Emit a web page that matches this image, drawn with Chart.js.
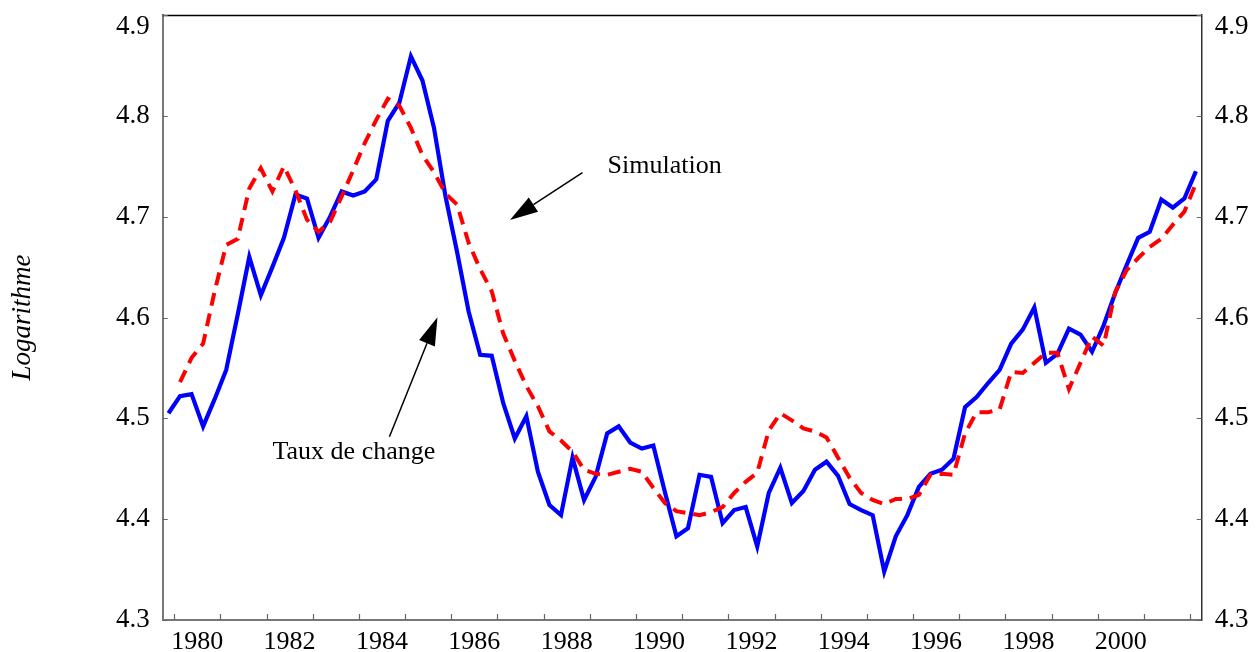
<!DOCTYPE html>
<html>
<head>
<meta charset="utf-8">
<script src="https://cdn.jsdelivr.net/npm/chart.js@4/dist/chart.umd.min.js"></script>
<style>
  html, body { margin: 0; padding: 0; background: #fff; }
  canvas { display: block; }
</style>
</head>
<body>
<canvas id="chart"></canvas>
<script>
// trimestres : de 1979T4 a 2002T1 (debut de 1979T4 = 1979.75)
var firstQuarter = 1979.75;
var nQuarters = 90;

// Taux de change (trait plein bleu)
var tauxDeChange = [
    4.505, 4.522, 4.524, 4.492, 4.519, 4.548, 4.603, 4.660, 4.622, 4.650,
    4.679, 4.722, 4.718, 4.679, 4.700, 4.725, 4.721, 4.725, 4.737, 4.795,
    4.813, 4.859, 4.835, 4.788, 4.720, 4.665, 4.606, 4.563, 4.562, 4.515,
    4.480, 4.502, 4.447, 4.414, 4.404, 4.461, 4.419, 4.442, 4.485, 4.492,
    4.476, 4.470, 4.473, 4.427, 4.383, 4.391, 4.444, 4.442, 4.396, 4.409,
    4.412, 4.373, 4.426, 4.451, 4.416, 4.428, 4.449, 4.457, 4.443, 4.415,
    4.409, 4.404, 4.348, 4.383, 4.404, 4.432, 4.445, 4.449, 4.460, 4.511,
    4.521, 4.535, 4.548, 4.574, 4.588, 4.610, 4.555, 4.564, 4.589, 4.583,
    4.566, 4.592, 4.624, 4.652, 4.679, 4.685, 4.717, 4.709, 4.718, 4.745
];

// Simulation (tirets rouges), commence un trimestre plus tard
var simulation = [
    null, 4.536, 4.560, 4.574, 4.626, 4.672, 4.678, 4.728, 4.748, 4.725,
    4.750, 4.726, 4.697, 4.685, 4.695, 4.720, 4.746, 4.773, 4.796, 4.817,
    4.810, 4.788, 4.761, 4.744, 4.723, 4.712, 4.674, 4.648, 4.626, 4.584,
    4.557, 4.532, 4.512, 4.487, 4.478, 4.467, 4.449, 4.445, 4.444, 4.447,
    4.450, 4.447, 4.431, 4.416, 4.408, 4.406, 4.404, 4.407, 4.412, 4.426,
    4.437, 4.446, 4.488, 4.505, 4.498, 4.490, 4.487, 4.481, 4.461, 4.441,
    4.426, 4.419, 4.415, 4.420, 4.420, 4.424, 4.444, 4.445, 4.444, 4.485,
    4.506, 4.506, 4.509, 4.546, 4.545, 4.555, 4.565, 4.565, 4.529, 4.555,
    4.581, 4.572, 4.625, 4.647, 4.659, 4.670, 4.678, 4.692, 4.705, 4.733
];

var yTicks = [4.3, 4.4, 4.5, 4.6, 4.7, 4.8, 4.9];
var yearLabels = [1980, 1982, 1984, 1986, 1988, 1990, 1992, 1994, 1996, 1998, 2000];

// milieu de chaque trimestre, en annees
var quarterDates = [];
for (var i = 0; i < nQuarters; i++) {
    quarterDates.push(firstQuarter + (i + 0.5) / 4);
}

function toPoints(values) {
    return values.map(function (v, i) { return { x: quarterDates[i], y: v }; });
}

var notes = [
    { text: 'Simulation', at: [1990.62, 4.750], from: [1988.84, 4.7436], to: [1987.27, 4.6967] },
    { text: 'Taux de change', at: [1983.89, 4.466], from: [1984.66, 4.4818], to: [1985.70, 4.6002] }
];

var serif = "'Liberation Serif', 'DejaVu Serif', serif";
Chart.defaults.font.family = serif;
Chart.defaults.color = '#000';

var ctx = document.getElementById('chart').getContext('2d');
ctx.canvas.width = 1260;
ctx.canvas.height = 652;

var framePlugin = {
    id: 'frame',
    beforeDraw: function (c) {
        // le libelle du haut (4.9) est descendu sous le cadre
        ['y', 'y2'].forEach(function (id) {
            c.scales[id].getLabelItems(c.chartArea).forEach(function (it) {
                if (it.label === '4.9') it.options.translation[1] += 12;
            });
        });
    },
    afterDraw: function (c) {
        var g = c.ctx, a = c.chartArea;
        var x = c.scales.x, y = c.scales.y;
        g.save();
        // bord superieur
        g.strokeStyle = '#000';
        g.lineWidth = 1.5;
        g.beginPath();
        g.moveTo(a.left, a.top + 0.5);
        g.lineTo(a.right, a.top + 0.5);
        g.stroke();
        // graduations vers l'interieur
        g.strokeStyle = '#666';
        g.lineWidth = 1.2;
        g.beginPath();
        x.ticks.forEach(function (t) {
            var px = Math.round(x.getPixelForValue(t.value)) + 0.5;
            g.moveTo(px, a.bottom);
            g.lineTo(px, a.bottom - 6);
        });
        yTicks.forEach(function (v) {
            var py = Math.round(y.getPixelForValue(v)) + 0.5;
            g.moveTo(a.left, py);
            g.lineTo(a.left + 5, py);
            g.moveTo(a.right, py);
            g.lineTo(a.right - 5, py);
        });
        g.stroke();

        // annotations et fleches
        g.fillStyle = '#000';
        g.strokeStyle = '#000';
        g.font = '26px ' + serif;
        g.textAlign = 'center';
        g.textBaseline = 'middle';
        notes.forEach(function (n) {
            g.fillText(n.text, x.getPixelForValue(n.at[0]), y.getPixelForValue(n.at[1]));
            var x0 = x.getPixelForValue(n.from[0]), y0 = y.getPixelForValue(n.from[1]);
            var x1 = x.getPixelForValue(n.to[0]), y1 = y.getPixelForValue(n.to[1]);
            var ang = Math.atan2(y1 - y0, x1 - x0);
            var hl = 28, hw = 8.5;
            var bx = x1 - hl * Math.cos(ang), by = y1 - hl * Math.sin(ang);
            g.lineWidth = 1.5;
            g.beginPath();
            g.moveTo(x0, y0);
            g.lineTo(bx, by);
            g.stroke();
            g.beginPath();
            g.moveTo(x1, y1);
            g.lineTo(bx + hw * Math.sin(ang), by - hw * Math.cos(ang));
            g.lineTo(bx - hw * Math.sin(ang), by + hw * Math.cos(ang));
            g.closePath();
            g.fill();
        });
        g.restore();
    }
};

var yTickOpts = {
    stepSize: 0.1,
    padding: 13,
    color: '#000',
    font: { size: 27 },
    callback: function (v) { return v.toFixed(1); }
};

function noOverflow(s) {
    s.paddingTop = 0;
    s.paddingBottom = 0;
    s.paddingLeft = 0;
    s.paddingRight = 0;
}

var chart = new Chart(ctx, {
    type: 'line',
    data: {
        datasets: [
            {
                label: 'Simulation',
                data: toPoints(simulation),
                borderColor: '#ff0000',
                borderWidth: 4,
                borderDash: [13, 8],
                borderCapStyle: 'butt',
                pointRadius: 0,
                tension: 0,
                fill: false
            },
            {
                label: 'Taux de change',
                data: toPoints(tauxDeChange),
                borderColor: '#0000ff',
                borderWidth: 4.2,
                pointRadius: 0,
                tension: 0,
                fill: false
            }
        ]
    },
    options: {
        responsive: false,
        animation: false,
        layout: { padding: { top: 15, left: 0, right: 0, bottom: 0 } },
        plugins: {
            legend: { display: false },
            tooltip: { enabled: false }
        },
        scales: {
            x: {
                type: 'linear',
                min: firstQuarter,
                max: firstQuarter + nQuarters / 4,
                grid: { drawOnChartArea: false, drawTicks: false },
                border: { color: '#777', width: 2 },
                ticks: {
                    stepSize: 1,
                    includeBounds: false,
                    autoSkip: false,
                    maxRotation: 0,
                    minRotation: 0,
                    padding: 7,
                    labelOffset: 23,
                    color: '#000',
                    font: { size: 26 },
                    callback: function (v) {
                        return yearLabels.indexOf(v) >= 0 ? String(v) : '';
                    }
                },
                afterFit: function (s) { s.height = 32; noOverflow(s); }
            },
            y: {
                position: 'left',
                min: 4.3,
                max: 4.9,
                grid: { drawOnChartArea: false, drawTicks: false },
                border: { color: '#777', width: 2 },
                ticks: yTickOpts,
                title: {
                    display: true,
                    text: 'Logarithme',
                    color: '#000',
                    font: { size: 27, style: 'italic' },
                    padding: { top: 7, bottom: 0 }
                },
                afterFit: function (s) { s.width = 162.7; noOverflow(s); }
            },
            y2: {
                position: 'right',
                min: 4.3,
                max: 4.9,
                grid: { drawOnChartArea: false, drawTicks: false },
                border: { color: '#333', width: 1.5 },
                ticks: yTickOpts,
                afterFit: function (s) { s.width = 58.3; noOverflow(s); }
            }
        }
    },
    plugins: [framePlugin]
});
</script>
</body>
</html>
